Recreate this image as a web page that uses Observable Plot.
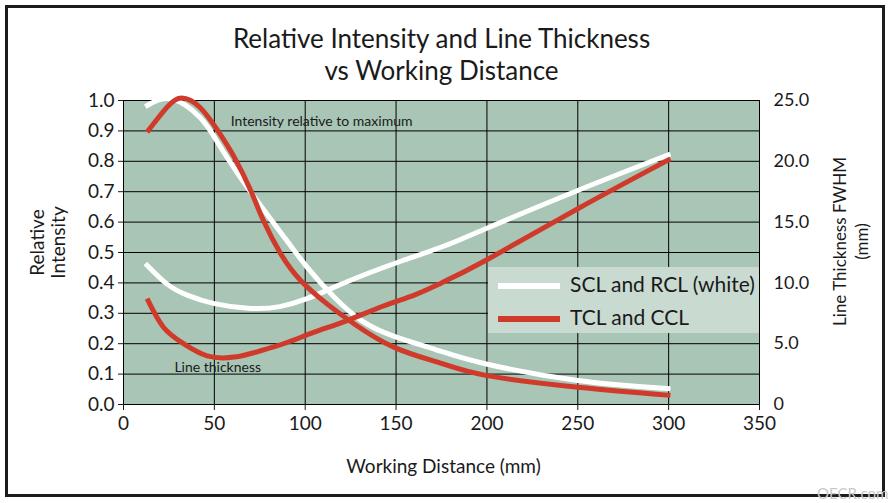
<!DOCTYPE html>
<html><head><meta charset="utf-8">
<script src="https://cdn.jsdelivr.net/npm/d3@7"></script>
<script src="https://cdn.jsdelivr.net/npm/@observablehq/plot@0.6"></script>
<style>
html,body{margin:0;padding:0;background:#fff;}
#wrap{position:relative;width:890px;height:503px;overflow:hidden;font-family:Lato,sans-serif;}
#wrap svg{display:block;}
#border{position:absolute;left:5px;top:5px;width:874px;height:486px;border:3px solid #1c1c1c;pointer-events:none;}
#legend{position:absolute;left:488px;top:267px;width:271px;height:66px;background:#c9dbd1;}
.sw{position:absolute;left:10px;width:62px;height:6px;}
.lt{position:absolute;left:82px;height:30px;line-height:30px;font-size:21px;color:#1a1a1a;white-space:nowrap;}
#wm{position:absolute;left:817px;top:484px;font-size:15px;line-height:18px;color:#c8c8c8;}
</style></head>
<body>
<div id="wrap"></div>
<script>
// ---- data ----
const xTicks = [0, 50, 100, 150, 200, 250, 300, 350];
const leftTicks = [0, 0.1, 0.2, 0.3, 0.4, 0.5, 0.6, 0.7, 0.8, 0.9, 1.0];
const rightTicks = [0, 5, 10, 15, 20, 25];
const rightTickLabels = ["0", "5.0", "10.0", "15.0", "20.0", "25.0"];
const seriesNames = ["SCL and RCL (white)", "TCL and CCL"];

// Relative intensity (left axis)
const sclIntensityDist = [12, 26, 42, 52, 64, 76, 87, 101, 116, 131, 149, 172, 199, 250, 301];
const sclIntensity     = [0.98, 1.005, 0.945, 0.86, 0.75, 0.65, 0.562, 0.452, 0.353, 0.276, 0.224, 0.18, 0.134, 0.079, 0.052];
const tclIntensityDist = [13, 24, 32, 42, 52, 61, 70, 77, 86.5, 97.5, 112, 127, 149, 175, 200, 250, 301];
const tclIntensity     = [0.896, 0.978, 1.008, 0.978, 0.9, 0.813, 0.704, 0.605, 0.496, 0.408, 0.331, 0.265, 0.188, 0.135, 0.095, 0.057, 0.03];

// Line thickness FWHM in mm (right axis)
const sclThickDist = [12, 24, 35, 50, 70, 86, 101, 116, 134, 153, 175, 200, 250, 301];
const sclThick     = [11.6, 9.9, 9.0, 8.3, 7.9, 8.05, 8.7, 9.65, 10.75, 11.8, 12.95, 14.5, 17.6, 20.6];
const tclThickDist = [13, 22, 33, 46, 61, 75, 90, 105, 123, 143, 160, 175, 200, 250, 301];
const tclThick     = [8.7, 6.35, 5.0, 4.0, 3.9, 4.4, 5.1, 5.95, 6.9, 8.1, 9.0, 10.0, 11.9, 16.1, 20.2];

// ---- styles ----
const bg = "#a8c5b5";
const red = "#d03a2b";
const white = "#ffffff";
const thickMax = rightTicks[rightTicks.length - 1];

const toRows = (xs, ys, k = 1) => xs.map((x, i) => ({x, y: ys[i] / k}));
const sclI = toRows(sclIntensityDist, sclIntensity);
const tclI = toRows(tclIntensityDist, tclIntensity);
const sclT = toRows(sclThickDist, sclThick, thickMax);
const tclT = toRows(tclThickDist, tclThick, thickMax);

const lineOpts = (color) => ({x: "x", y: "y", stroke: color, strokeWidth: 5, curve: "natural", strokeLinecap: "butt"});

const chart = Plot.plot({
  width: 890, height: 503,
  marginLeft: 123, marginRight: 131, marginTop: 100, marginBottom: 99,
  x: {domain: [0, 350]},
  y: {domain: [0, 1]},
  style: {fontFamily: "Lato, sans-serif", fontSize: "19px", color: "#1a1a1a", background: "transparent", overflow: "visible"},
  marks: [
    Plot.frame({fill: bg, stroke: null}),
    Plot.gridX(xTicks, {stroke: "#000", strokeOpacity: 1, strokeWidth: 1}),
    Plot.gridY(leftTicks, {stroke: "#000", strokeOpacity: 1, strokeWidth: 1}),
    Plot.frame({stroke: "#000", strokeWidth: 1}),
    Plot.axisX(xTicks, {tickSize: 6, tickPadding: 6, label: null, tickFormat: d => String(d), fontSize: 19}),
    Plot.axisY(leftTicks, {tickSize: 5, tickPadding: 4, label: null, tickFormat: d => d.toFixed(1), fontSize: 19}),
    Plot.axisY(rightTicks.map(v => v / thickMax), {anchor: "right", tickSize: 0, tickPadding: 14, label: null, fontSize: 18,
      tickFormat: d => rightTickLabels[rightTicks.indexOf(Math.round(d * thickMax))]}),
    Plot.line(sclI, lineOpts(white)),
    Plot.line(sclT, lineOpts(white)),
    Plot.line(tclI, lineOpts(red)),
    Plot.line(tclT, lineOpts(red)),
    Plot.text(["Intensity relative to maximum"], {text: d => d, x: 59, y: 0.93, textAnchor: "start", fontSize: 14}),
    Plot.text(["Line thickness"], {text: d => d, x: 28, y: 0.122, textAnchor: "start", fontSize: 14}),
    Plot.text(["Relative Intensity and Line Thickness\nvs Working Distance"], {text: d => d, frameAnchor: "top", dy: -47, fontSize: 26, lineHeight: 1.23, lineAnchor: "middle", textAnchor: "middle"}),
    Plot.text(["Working Distance (mm)"], {text: d => d, frameAnchor: "bottom", dy: 62, dx: 2, fontSize: 19, lineAnchor: "middle"}),
    Plot.text(["Relative\nIntensity"], {text: d => d, frameAnchor: "left", dx: -76, dy: -10, rotate: -90, fontSize: 19, lineHeight: 1.15, lineAnchor: "middle", textAnchor: "middle"}),
    Plot.text(["Line Thickness FWHM\n(mm)"], {text: d => d, frameAnchor: "right", dx: 90, dy: -11, rotate: -90, fontSize: 17, lineHeight: 1.3, lineAnchor: "middle", textAnchor: "middle"})
  ]
});

const wrap = document.getElementById("wrap");
wrap.appendChild(chart);

// legend
const legend = document.createElement("div");
legend.id = "legend";
const colors = [white, red];
const centers = [18.5, 52];
seriesNames.forEach((name, i) => {
  const sw = document.createElement("div");
  sw.className = "sw";
  sw.style.background = colors[i];
  sw.style.top = (centers[i] - 3) + "px";
  legend.appendChild(sw);
  const t = document.createElement("div");
  t.className = "lt";
  t.style.top = (centers[i] - 2 - 15) + "px";
  t.textContent = name;
  legend.appendChild(t);
});
wrap.appendChild(legend);

const border = document.createElement("div");
border.id = "border";
wrap.appendChild(border);

const wm = document.createElement("div");
wm.id = "wm";
wm.textContent = "OECR.com";
wrap.appendChild(wm);
</script>
</body></html>
